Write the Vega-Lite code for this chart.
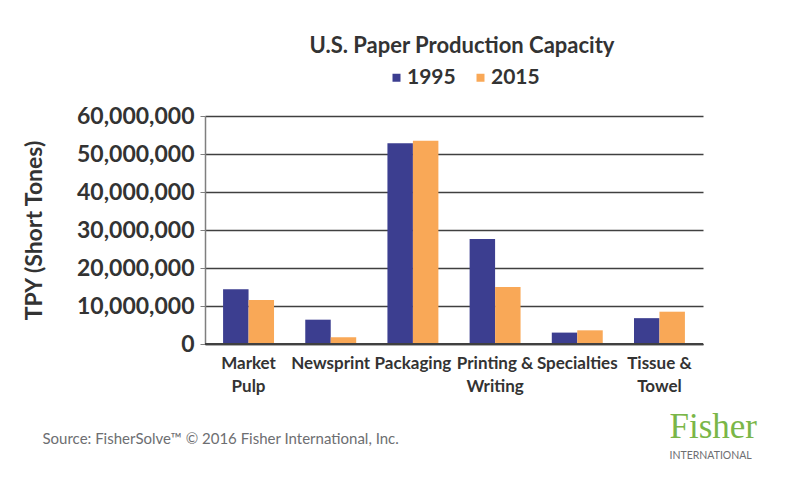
{
  "$schema": "https://vega.github.io/schema/vega-lite/v6.json",
  "autosize": {"type": "none"},
  "padding": {"left": 205, "top": 116, "right": 97, "bottom": 133},
  "width": 498,
  "height": 228,
  "background": "white",
  "title": {
    "text": "U.S. Paper Production Capacity",
    "font": "Lato",
    "fontSize": 22,
    "fontWeight": "bold",
    "color": "#333333",
    "anchor": "middle",
    "frame": "group",
    "dx": 8,
    "offset": 9
  },
  "data": {
    "values": [
      {"category": "Market Pulp", "year": "1995", "tpy": 14400000},
      {"category": "Market Pulp", "year": "2015", "tpy": 11600000},
      {"category": "Newsprint", "year": "1995", "tpy": 6400000},
      {"category": "Newsprint", "year": "2015", "tpy": 1750000},
      {"category": "Packaging", "year": "1995", "tpy": 52800000},
      {"category": "Packaging", "year": "2015", "tpy": 53500000},
      {"category": "Printing & Writing", "year": "1995", "tpy": 27600000},
      {"category": "Printing & Writing", "year": "2015", "tpy": 15000000},
      {"category": "Specialties", "year": "1995", "tpy": 3000000},
      {"category": "Specialties", "year": "2015", "tpy": 3600000},
      {"category": "Tissue & Towel", "year": "1995", "tpy": 6800000},
      {"category": "Tissue & Towel", "year": "2015", "tpy": 8500000}
    ]
  },
  "resolve": {"axis": {"y": "independent"}},
  "layer": [
    {
      "mark": {"type": "bar"},
      "encoding": {
        "x": {
          "field": "category",
          "type": "nominal",
          "sort": null,
          "scale": {"paddingInner": 0.38, "paddingOuter": 0.22},
          "axis": {
            "title": "Source: FisherSolve™ © 2016 Fisher International, Inc.",
            "titleX": -163,
            "titleY": 99,
            "titleAlign": "left",
            "titleBaseline": "alphabetic",
            "titleFont": "Lato",
            "titleFontSize": 15,
            "titleFontWeight": "normal",
            "titleColor": "#6d6e71",
            "labelAngle": 0,
            "labelFont": "Lato",
            "labelFontSize": 17,
            "labelFontWeight": "bold",
            "labelColor": "#333333",
            "labelLineHeight": 23,
            "labelPadding": 11,
            "labelBaseline": "top",
            "labelExpr": "datum.label == 'Market Pulp' ? ['Market', 'Pulp'] : datum.label == 'Printing & Writing' ? ['Printing &', 'Writing'] : datum.label == 'Tissue & Towel' ? ['Tissue &', 'Towel'] : datum.label",
            "ticks": false,
            "domain": true,
            "domainColor": "#404040",
            "domainWidth": 1.5
          }
        },
        "xOffset": {"field": "year", "type": "nominal"},
        "y": {
          "field": "tpy",
          "type": "quantitative",
          "scale": {"domain": [0, 60000000], "nice": false},
          "axis": {
            "title": "TPY (Short Tones)",
            "titleFont": "Lato",
            "titleFontSize": 23,
            "titleFontWeight": "bold",
            "titleColor": "#333333",
            "titlePadding": 30,
            "values": [0, 10000000, 20000000, 30000000, 40000000, 50000000, 60000000],
            "format": ",d",
            "labelFont": "Lato",
            "labelFontSize": 23,
            "labelFontWeight": "bold",
            "labelColor": "#333333",
            "labelPadding": 6,
            "tickSize": 5,
            "tickColor": "#7f7f7f",
            "domainColor": "#7f7f7f",
            "domainWidth": 1.5,
            "grid": true,
            "gridColor": "#404040",
            "gridWidth": 1.5
          }
        },
        "color": {
          "field": "year",
          "type": "nominal",
          "scale": {"domain": ["1995", "2015"], "range": ["#3c3e90", "#f9a857"]},
          "legend": {
            "title": null,
            "orient": "none",
            "direction": "horizontal",
            "legendX": 181,
            "legendY": -49,
            "symbolType": "square",
            "symbolSize": 64,
            "symbolStrokeWidth": 0,
            "labelFont": "Lato",
            "labelFontSize": 21,
            "labelFontWeight": "bold",
            "labelColor": "#333333",
            "labelOffset": 0,
            "columnPadding": 14
          }
        }
      }
    },
    {
      "mark": {"type": "rule", "color": "#404040", "strokeWidth": 1.5},
      "encoding": {
        "y": {
          "datum": 0,
          "type": "quantitative",
          "axis": {
            "orient": "right",
            "title": "Fisher",
            "titleAngle": 0,
            "titleX": -34,
            "titleY": 321,
            "titleAlign": "left",
            "titleBaseline": "alphabetic",
            "titleFont": "Liberation Serif",
            "titleFontSize": 35,
            "titleFontWeight": "normal",
            "titleColor": "#7ab648",
            "values": [0],
            "labelExpr": "'INTERNATIONAL'",
            "labelAlign": "left",
            "labelBaseline": "alphabetic",
            "labelPadding": -34,
            "labelOffset": 114,
            "labelFont": "Lato",
            "labelFontSize": 10.5,
            "labelColor": "#6d6e71",
            "ticks": false,
            "domain": false,
            "grid": false
          }
        }
      }
    }
  ],
  "config": {
    "view": {"stroke": null}
  }
}
